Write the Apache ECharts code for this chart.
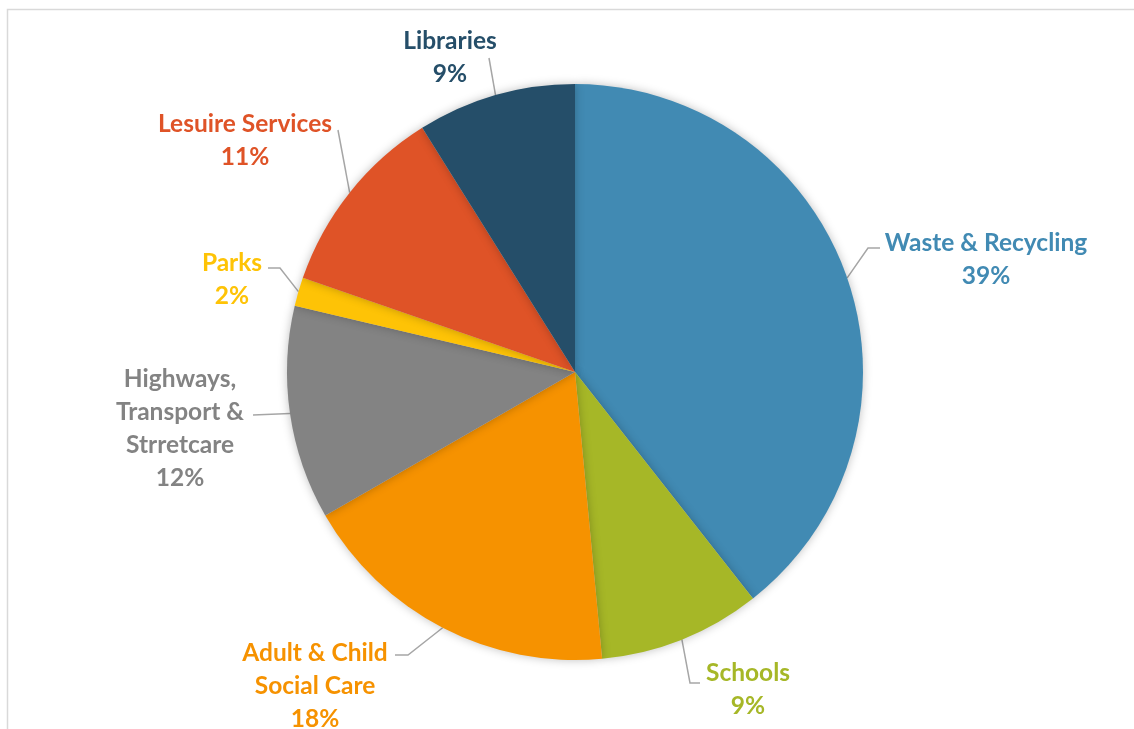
<!DOCTYPE html>
<html>
<head>
<meta charset="utf-8">
<script src="https://cdn.jsdelivr.net/npm/echarts@6/dist/echarts.min.js"></script>
<style>
html,body{margin:0;padding:0;background:#fff;}
#chart{width:1134px;height:729px;}
</style>
</head>
<body>
<div id="chart"></div>
<script>
// ---- data ----
var categories = ['Waste & Recycling', 'Schools', 'Adult & Child\nSocial Care', 'Highways,\nTransport &\nStrretcare', 'Parks', 'Lesuire Services', 'Libraries'];
var values = [39.4, 9.1, 18.2, 12.0, 1.6, 10.8, 8.9];

// ---- styles ----
var colors = ['#418AB3', '#A6B727', '#F69200', '#838383', '#FEC306', '#DF5327', '#254E69'];
// label text centre and label-line bend/end points (layout only)
var labelPlacement = [
  {x: 986, y: 260, line: [[868, 248], [880, 248]]},
  {x: 748, y: 690, line: [[690, 683], [700, 683]]},
  {x: 315, y: 686, line: [[408, 655], [395, 655]]},
  {x: 180, y: 429, line: [[253, 415]]},
  {x: 232, y: 280, line: [[280, 268], [268, 268]]},
  {x: 245, y: 141, line: [[338, 130]]},
  {x: 450, y: 58,  line: [[489, 58]]}
];

var chart = echarts.init(document.getElementById('chart'));
var seriesData = categories.map(function (c, i) {
  return {
    name: c,
    value: values[i],
    itemStyle: {color: colors[i]},
    label: {color: colors[i]}
  };
});

chart.setOption({
  animation: false,
  graphic: [{
    type: 'rect',
    shape: {x: 7.5, y: 9.5, width: 1200, height: 800},
    style: {fill: 'none', stroke: '#D9D9D9', lineWidth: 1.5},
    silent: true, z: -1
  }],
  series: [{
    type: 'pie',
    center: [575, 372],
    radius: 288,
    startAngle: 90,
    clockwise: true,
    percentPrecision: 0,
    data: seriesData,
    itemStyle: {
      borderWidth: 0,
      shadowBlur: 10,
      shadowColor: 'rgba(0,0,0,0.25)'
    },
    label: {
      show: true,
      position: 'outside',
      formatter: '{b}\n{d}%',
      fontFamily: 'Lato',
      fontWeight: 'bold',
      fontSize: 24.5,
      lineHeight: 33
    },
    labelLine: {
      show: true,
      length: 15,
      length2: 10,
      lineStyle: {color: '#A6A6A6', width: 1.5}
    },
    labelLayout: function (params) {
      var p = labelPlacement[params.dataIndex];
      var start = params.labelLinePoints ? params.labelLinePoints[0] : null;
      var res = {x: p.x, y: p.y, align: 'center', verticalAlign: 'middle'};
      if (start) {
        res.labelLinePoints = [start].concat(p.line);
      }
      return res;
    },
    emphasis: {disabled: true}
  }]
});
</script>
</body>
</html>
